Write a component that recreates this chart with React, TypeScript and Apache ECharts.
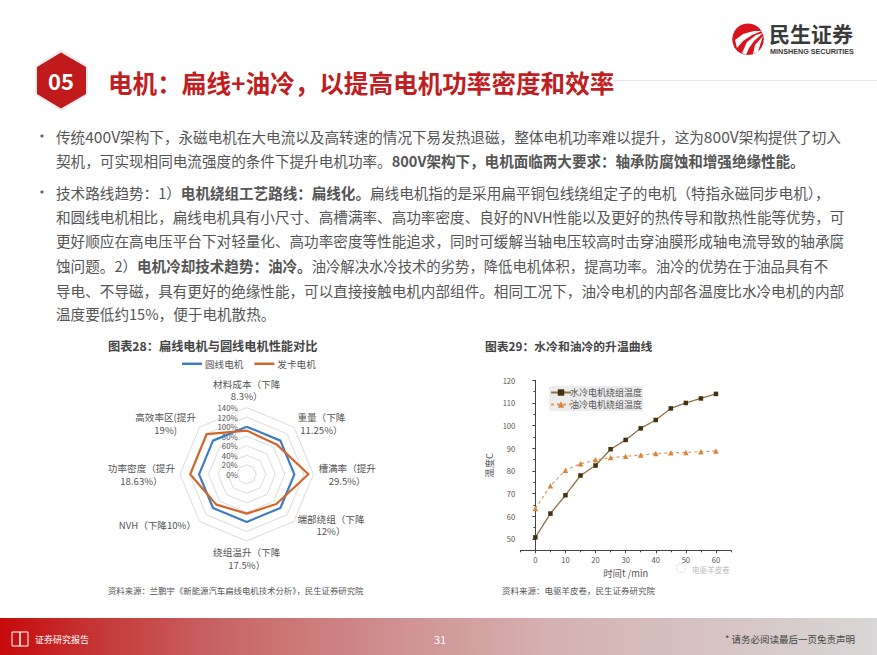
import React, { useEffect, useRef } from "react";
import * as echarts from "echarts";

const FONT = '"Noto Sans CJK SC", "Noto Sans", sans-serif';

// ECharts lays radar indicators out counter-clockwise from the top
const radarNames = ["材料成本（下降\n8.3%）", "高效率区(提升\n19%)", "功率密度（提升\n18.63%）", "NVH（下降10%）", "绕组温升（下降\n17.5%）", "端部绕组（下降\n12%）", "槽满率（提升\n29.5%）", "重量（下降\n11.25%）"];
const roundWire = [100, 100, 100, 100, 100, 100, 100, 100];
const hairpin = [91.7, 119, 118.63, 90, 82.5, 88, 129.5, 88.75];
const radarSeriesNames = ["圆线电机", "发卡电机"];

const minutes = [0, 5, 10, 15, 20, 25, 30, 35, 40, 45, 50, 55, 60];
const waterCooled = [50.7, 61.2, 69.3, 78, 82.4, 89.6, 93.7, 98.8, 102.5, 107.6, 110, 112, 114];
const oilCooled = [63.4, 73.5, 80.3, 83.2, 84.9, 85.9, 86.5, 87, 87.7, 88, 88.2, 88.5, 88.8];
const lineSeriesNames = ["水冷电机绕组温度", "油冷电机绕组温度"];
const xMajor = [0, 10, 20, 30, 40, 50, 60];
const yMajor = [50, 60, 70, 80, 90, 100, 110, 120];

const titleText = "电机：扁线+油冷，以提高电机功率密度和效率";
const bodyLines: [number, string][] = [
  [136, "{n|传统}{l|400V}{n|架构下，永磁电机在大电流以及高转速的情况下易发热退磁，整体电机功率难以提升，这为}{l|800V}{n|架构提供了切入}"],
  [160, "{n|契机，可实现相同电流强度的条件下提升电机功率。}{b|800V架构下，电机面临两大要求：轴承防腐蚀和增强绝缘性能。}"],
  [192, "{n|技术路线趋势：1）}{b|电机绕组工艺路线：扁线化。}{n|扁线电机指的是采用扁平铜包线绕组定子的电机（特指永磁同步电机），}"],
  [216.5, "{n|和圆线电机相比，扁线电机具有小尺寸、高槽满率、高功率密度、良好的NVH性能以及更好的热传导和散热性能等优势，可}"],
  [240.5, "{n|更好顺应在高电压平台下对轻量化、高功率密度等性能追求，同时可缓解当轴电压较高时击穿油膜形成轴电流导致的轴承腐}"],
  [265, "{n|蚀问题。2）}{b|电机冷却技术趋势：油冷。}{t|油冷解决水冷技术的劣势，降低电机体积，提高功率。油冷的优势在于油品具有不}"],
  [290, "{n|导电、不导磁，具有更好的绝缘性能，可以直接接触电机内部组件。相同工况下，油冷电机的内部各温度比水冷电机的内部}"],
  [313.5, "{n|温度要低约15%，便于电机散热。}"],
];

const text = (x: number, y: number, t: string, size: number, fill: string, extra: any = {}) => ({
  type: "text",
  silent: true,
  style: { x, y, text: t, fontSize: size, fill, fontFamily: FONT, verticalAlign: "middle", align: "left", ...extra },
});

export default function App() {
  const ref = useRef<HTMLDivElement>(null);
  useEffect(() => {
    const chart = echarts.init(ref.current!, undefined, { renderer: "svg" });
    const bodyRich = {
      n: { fontSize: 14.6, color: "#555", fontFamily: FONT },
      l: { fontSize: 15.6, color: "#555", fontFamily: FONT },
      t: { fontSize: 14.35, color: "#555", fontFamily: FONT },
      b: { fontSize: 14.55, fontWeight: "bold", color: "#444", fontFamily: FONT },
    };
    const graphic: any[] = [
      { type: "rect", silent: true, shape: { x: 0, y: 618, width: 877, height: 37 }, style: { fill: new echarts.graphic.LinearGradient(0, 0, 1, 0, [
        { offset: 0, color: "#c60a0a" }, { offset: 0.12, color: "#c53a3a" }, { offset: 0.25, color: "#c96464" }, { offset: 0.45, color: "#d09090" }, { offset: 0.62, color: "#d5b0b0" }, { offset: 1, color: "#d8d6d6" },
      ]) } },
      { type: "rect", silent: true, shape: { x: 12, y: 632, width: 8, height: 14 }, style: { fill: "none", stroke: "#fff", lineWidth: 1 } },
      { type: "rect", silent: true, shape: { x: 20, y: 632, width: 8, height: 14 }, style: { fill: "none", stroke: "#fff", lineWidth: 1 } },
      text(35, 639, "证券研究报告", 9, "#fff"),
      text(440, 639, "31", 11, "#fff", { align: "center" }),
      text(855, 639, "* 请务必阅读最后一页免责声明", 9.5, "#444", { align: "right" }),
      { type: "line", silent: true, shape: { x1: 613, y1: 80.5, x2: 877, y2: 80.5 }, style: { stroke: "#e8e8e8", lineWidth: 1 } },
      { type: "polygon", silent: true, shape: { points: [[61, 49.5], [88, 66], [88, 95], [61, 111], [35, 95], [35, 66]] }, style: { fill: "#ececec" } },
      { type: "polygon", silent: true, shape: { points: [[61, 52.5], [86, 67], [86, 94], [61, 108.5], [37, 94], [37, 67]] }, style: { fill: "#c01a1d" } },
      text(61, 80, "05", 22, "#fff", { align: "center", fontWeight: "bold" }),
      text(108, 81.5, titleText, 24.6, "#bf1e22", { fontWeight: "bold" }),
      { type: "circle", silent: true, shape: { cx: 748, cy: 39.3, r: 15.8 }, style: { fill: "#d8141c" } },
      { type: "polygon", silent: true, shape: { points: [[735, 40], [743, 34], [754, 31], [762, 31], [752, 35], [743, 41], [737, 48]] }, style: { fill: "#fff" } },
      { type: "polygon", silent: true, shape: { points: [[742, 53], [747, 42], [756, 35], [763, 33], [754, 41], [749, 48], [746, 55]] }, style: { fill: "#fff" } },
      { type: "polygon", silent: true, shape: { points: [[753, 54], [755, 45], [763, 36], [760, 45], [758, 52]] }, style: { fill: "#fff" } },
      text(769, 32.5, "民生证券", 21, "#3a3a3a", { fontWeight: "bold", lineHeight: 21 }),
      text(770, 51, "MINSHENG SECURITIES", 7.2, "#3a3a3a", { fontWeight: "bold", lineHeight: 8, fontFamily: '"Liberation Sans", sans-serif' }),
      { type: "circle", silent: true, shape: { cx: 42, cy: 136, r: 1.6 }, style: { fill: "#666" } },
      { type: "circle", silent: true, shape: { cx: 42, cy: 192, r: 1.6 }, style: { fill: "#666" } },
      ...bodyLines.map(([y, t]) => text(56, y, t, 14.6, "#555", { rich: bodyRich })),
      text(108, 346, "图表28：扁线电机与圆线电机性能对比", 12.2, "#444", { fontWeight: "bold" }),
      text(485, 345, "图表29：水冷和油冷的升温曲线", 11.8, "#444", { fontWeight: "bold" }),
      text(108, 590, "资料来源：兰鹏宇《新能源汽车扁线电机技术分析》，民生证券研究院", 8.4, "#555"),
      text(502, 590, "资料来源：电驱羊皮卷，民生证券研究院", 8.5, "#555"),
      { type: "circle", silent: true, shape: { cx: 681, cy: 568, r: 4.5 }, style: { fill: "none", stroke: "#ccc", lineWidth: 1, lineDash: [1.5, 1.5] } },
      text(692, 569.5, "电驱羊皮卷", 7.6, "#bbb"),
    ];
    chart.setOption({
      animation: false,
      backgroundColor: "#fff",
      textStyle: { fontFamily: FONT },
      graphic,
      legend: [
        {
          data: radarSeriesNames,
          left: 177,
          top: 354,
          itemWidth: 20,
          itemHeight: 2.5,
          icon: "rect",
          itemGap: 11,
          textStyle: { fontSize: 9.6, color: "#555", padding: [0, 0, 0, -2] },
        },
        {
          data: lineSeriesNames,
          left: 549,
          top: 386,
          orient: "vertical",
          padding: [2, 1, 2, 1],
          itemGap: 3,
          itemWidth: 20,
          itemHeight: 8,
          backgroundColor: "#ececec",
          textStyle: { fontSize: 9, color: "#555", padding: [0, 0, 0, -6] },
        },
      ],
      radar: {
        center: [246.7, 474.3],
        radius: 66.7,
        shape: "polygon",
        splitNumber: 7,
        nameGap: 5,
        axisName: {
          color: "#555",
          fontSize: 9.6,
          formatter: (n: string) => n.split("\n").map((l) => `{c|${l}}`).join("\n"),
          rich: { c: { align: "center", fontSize: 9.6, color: "#555", lineHeight: 12.4 } },
        },
        axisLine: { show: false },
        axisTick: { show: false },
        splitArea: { show: false },
        splitLine: { lineStyle: { color: "#dcdcdc", width: 1 } },
        indicator: radarNames.map((name, i) => ({
          name,
          min: 0,
          max: 140,
          ...(i === 0
            ? { axisLabel: { show: true, formatter: "{value}%", fontSize: 7.8, color: "#555", margin: 9 } }
            : {}),
        })),
      },
      grid: { left: 520.3, top: 380.3, width: 210.7, height: 170, containLabel: false },
      xAxis: [
        {
          type: "value", min: -5, max: 65, splitLine: { show: false },
          name: "时间t /min", nameLocation: "middle", nameGap: 18,
          nameTextStyle: { fontSize: 9.4, color: "#555" },
          axisLine: { lineStyle: { color: "#444" } },
          axisTick: { customValues: xMajor, length: 3, lineStyle: { color: "#444" } },
          axisLabel: { customValues: xMajor, fontSize: 7.6, color: "#555", margin: 5 },
        },
        {
          type: "value", min: -5, max: 65, interval: 5, position: "bottom", splitLine: { show: false },
          axisLine: { show: false }, axisLabel: { show: false },
          axisTick: { length: 2, lineStyle: { color: "#444" } },
        },
      ],
      yAxis: [
        {
          type: "value", min: 45, max: 120, splitLine: { show: false },
          name: "温度C", nameLocation: "middle", nameGap: 27,
          nameTextStyle: { fontSize: 9.4, color: "#555" },
          axisLine: { show: true, lineStyle: { color: "#444" } },
          axisTick: { show: true, customValues: yMajor, length: 3, lineStyle: { color: "#444" } },
          axisLabel: { customValues: yMajor, fontSize: 7.6, color: "#555", margin: 5 },
        },
        {
          type: "value", min: 45, max: 120, interval: 5, position: "left", splitLine: { show: false },
          axisLine: { show: false }, axisLabel: { show: false },
          axisTick: { show: true, length: 2, lineStyle: { color: "#444" } },
        },
      ],
      series: [
        {
          type: "radar",
          symbol: "none",
          data: [
            { name: radarSeriesNames[0], value: roundWire, lineStyle: { color: "#3f7cc0", width: 2.2 }, itemStyle: { color: "#3f7cc0" } },
            { name: radarSeriesNames[1], value: hairpin, lineStyle: { color: "#d2652a", width: 2.2 }, itemStyle: { color: "#d2652a" } },
          ],
        },
        {
          type: "line",
          name: lineSeriesNames[0],
          data: minutes.map((m, i) => [m, waterCooled[i]]),
          symbol: "rect",
          symbolSize: 4.5,
          itemStyle: { color: "#43300f" },
          lineStyle: { color: "#8d7347", width: 1.3 },
        },
        {
          type: "line",
          name: lineSeriesNames[1],
          data: minutes.map((m, i) => [m, oilCooled[i]]),
          symbol: "triangle",
          symbolSize: 5.5,
          itemStyle: { color: "#d9843c" },
          lineStyle: { color: "#e09a62", width: 1.2, type: [3, 3] },
        },
      ],
    });
    return () => chart.dispose();
  }, []);
  return (
    <div
      ref={ref}
      style={{ position: "absolute", left: 0, top: 0, width: 877, height: 655, background: "#fff" }}
    />
  );
}
